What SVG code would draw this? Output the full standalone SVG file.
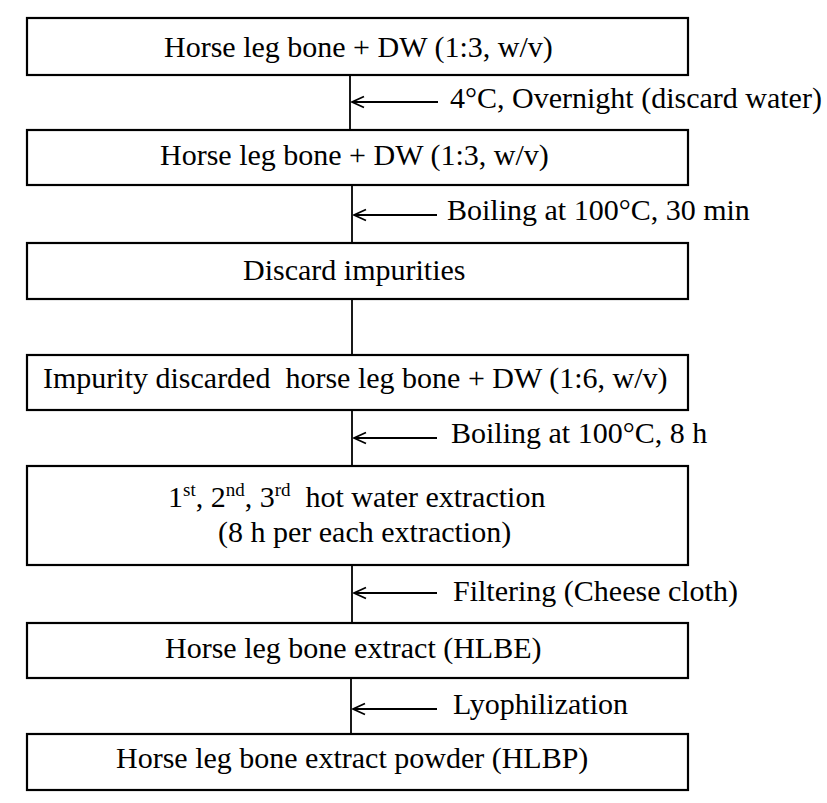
<svg xmlns="http://www.w3.org/2000/svg" width="827" height="803" viewBox="0 0 827 803">
<style>
.box{fill:#fff;stroke:#000;stroke-width:2.2}
.t{font-family:"Liberation Serif","Times New Roman",serif;font-size:30px;fill:#000;white-space:pre}
.sup{font-size:19px}
.ln{stroke:#000;stroke-width:1.8;fill:none}
.ar{stroke:#000;stroke-width:1.8;fill:none;marker-start:url(#ah)}
</style>
<defs>
<marker id="ah" markerUnits="userSpaceOnUse" markerWidth="16" markerHeight="14" refX="1" refY="7" orient="auto">
<path d="M13,1.5 L1,7 L13,12.5" fill="none" stroke="#000" stroke-width="1.8"/>
</marker>
</defs>
<rect width="827" height="803" fill="#fff"/>
<g id="connectors">
<line class="ln" x1="350" y1="75" x2="350" y2="130"/>
<line class="ln" x1="352" y1="185" x2="352" y2="243"/>
<line class="ln" x1="352" y1="299" x2="352" y2="355"/>
<line class="ln" x1="352" y1="410" x2="352" y2="466"/>
<line class="ln" x1="352" y1="565" x2="352" y2="623"/>
<line class="ln" x1="351" y1="678" x2="351" y2="734"/>
<line class="ar" x1="352" y1="102" x2="438" y2="102"/>
<line class="ar" x1="354" y1="215" x2="437" y2="215"/>
<line class="ar" x1="354" y1="438" x2="437" y2="438"/>
<line class="ar" x1="354" y1="593" x2="437" y2="593"/>
<line class="ar" x1="353" y1="709" x2="437" y2="709"/>
<text class="t" x="450" y="108">4°C, Overnight (discard water)</text>
<text class="t" x="447" y="220">Boiling at 100°C, 30 min</text>
<text class="t" x="451" y="443">Boiling at 100°C, 8 h</text>
<text class="t" x="453" y="601">Filtering (Cheese cloth)</text>
<text class="t" x="453" y="714">Lyophilization</text>
</g>
<g id="n1">
<rect class="box" x="27" y="18" width="661" height="57"/>
<text class="t" x="164" y="57">Horse leg bone + DW (1:3, w/v)</text>
</g>
<g id="n2">
<rect class="box" x="27" y="130" width="661" height="55"/>
<text class="t" x="160" y="165">Horse leg bone + DW (1:3, w/v)</text>
</g>
<g id="n3">
<rect class="box" x="27" y="243" width="661" height="56"/>
<text class="t" x="243" y="280">Discard impurities</text>
</g>
<g id="n4">
<rect class="box" x="27" y="355" width="661" height="55"/>
<text class="t" x="43" y="388">Impurity discarded  horse leg bone + DW (1:6, w/v)</text>
</g>
<g id="n5">
<rect class="box" x="27" y="466" width="661" height="99"/>
<text class="t" x="168" y="507">1<tspan class="sup" dy="-11">st</tspan><tspan dy="11">, 2</tspan><tspan class="sup" dy="-11">nd</tspan><tspan dy="11">, 3</tspan><tspan class="sup" dy="-11">rd</tspan><tspan dy="11">  hot water extraction</tspan></text>
<text class="t" x="218" y="542">(8 h per each extraction)</text>
</g>
<g id="n6">
<rect class="box" x="27" y="623" width="661" height="55"/>
<text class="t" x="165" y="658">Horse leg bone extract (HLBE)</text>
</g>
<g id="n7">
<rect class="box" x="27" y="734" width="661" height="56"/>
<text class="t" x="116" y="768">Horse leg bone extract powder (HLBP)</text>
</g>
</svg>
